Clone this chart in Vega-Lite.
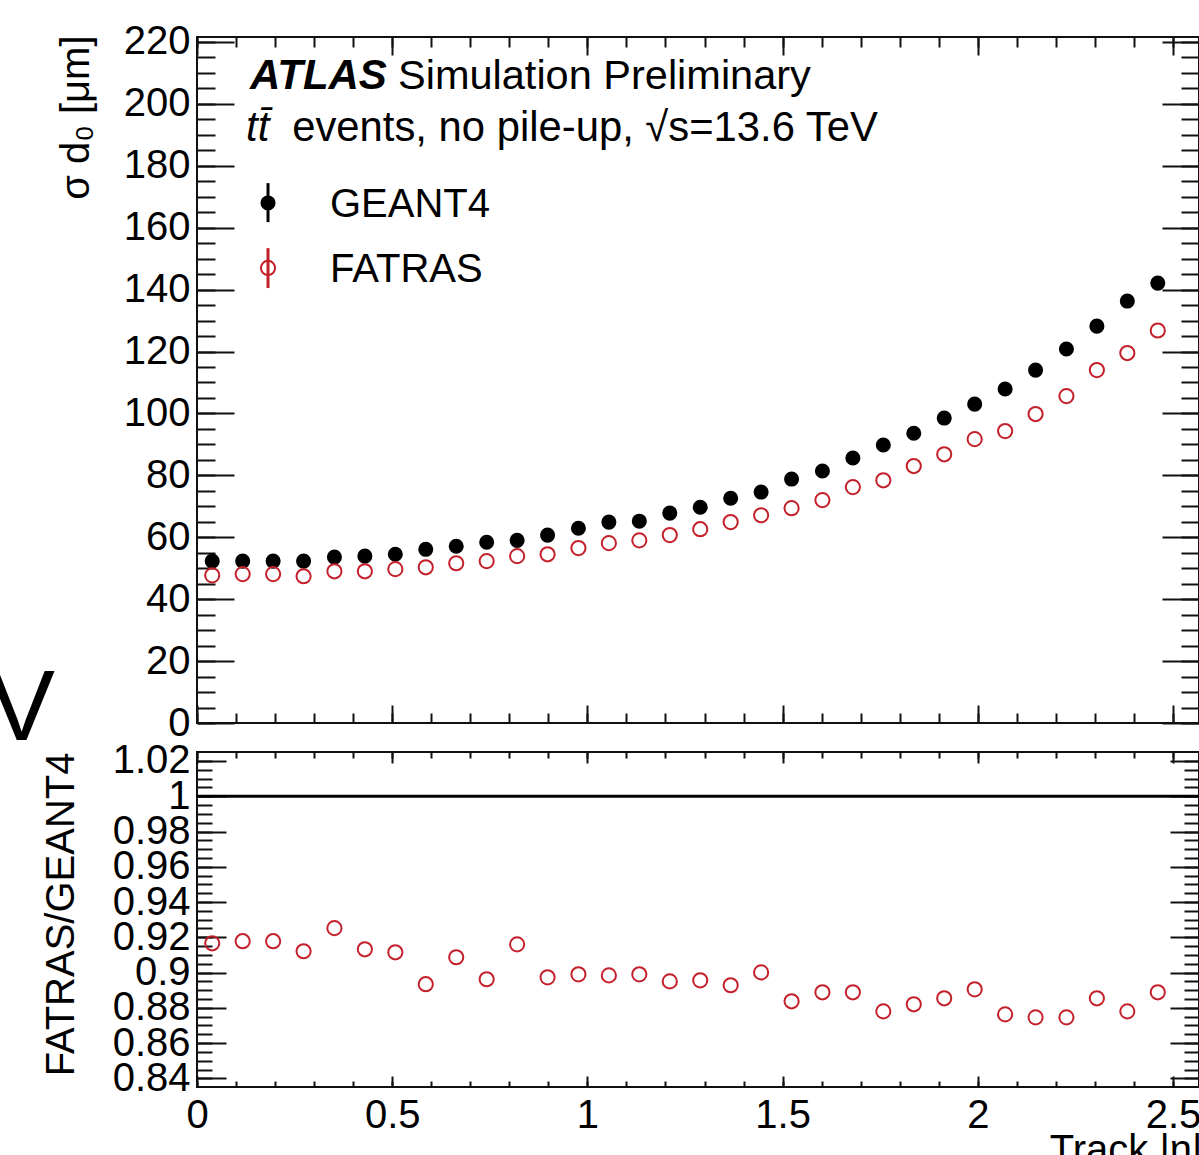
{
  "$schema": "https://vega.github.io/schema/vega-lite/v6.json",
  "autosize": {"type": "none"},
  "padding": {"left": 197, "top": 37, "right": 1002, "bottom": 1118},
  "background": "white",
  "bounds": "flush",
  "spacing": 29,
  "datasets": {
    "d": [
      {"eta": 0.039, "geant4": 52.3, "fatras": 47.7, "ratio": 0.9166},
      {"eta": 0.117, "geant4": 52.3, "fatras": 48.1, "ratio": 0.9178},
      {"eta": 0.195, "geant4": 52.3, "fatras": 48.1, "ratio": 0.9178},
      {"eta": 0.273, "geant4": 52.3, "fatras": 47.4, "ratio": 0.9121},
      {"eta": 0.352, "geant4": 53.6, "fatras": 49.0, "ratio": 0.9252},
      {"eta": 0.430, "geant4": 53.9, "fatras": 49.0, "ratio": 0.9132},
      {"eta": 0.508, "geant4": 54.5, "fatras": 49.7, "ratio": 0.9115},
      {"eta": 0.586, "geant4": 56.1, "fatras": 50.3, "ratio": 0.8934},
      {"eta": 0.664, "geant4": 57.1, "fatras": 51.6, "ratio": 0.9087},
      {"eta": 0.742, "geant4": 58.4, "fatras": 52.3, "ratio": 0.8962},
      {"eta": 0.820, "geant4": 59.0, "fatras": 53.9, "ratio": 0.9160},
      {"eta": 0.898, "geant4": 60.7, "fatras": 54.5, "ratio": 0.8973},
      {"eta": 0.977, "geant4": 62.9, "fatras": 56.5, "ratio": 0.8990},
      {"eta": 1.055, "geant4": 64.9, "fatras": 58.1, "ratio": 0.8984},
      {"eta": 1.133, "geant4": 65.2, "fatras": 59.0, "ratio": 0.8990},
      {"eta": 1.211, "geant4": 67.8, "fatras": 60.7, "ratio": 0.8950},
      {"eta": 1.289, "geant4": 69.7, "fatras": 62.6, "ratio": 0.8956},
      {"eta": 1.367, "geant4": 72.6, "fatras": 64.9, "ratio": 0.8928},
      {"eta": 1.445, "geant4": 74.6, "fatras": 67.1, "ratio": 0.9001},
      {"eta": 1.523, "geant4": 78.8, "fatras": 69.4, "ratio": 0.8837},
      {"eta": 1.602, "geant4": 81.4, "fatras": 72.0, "ratio": 0.8888},
      {"eta": 1.680, "geant4": 85.6, "fatras": 76.2, "ratio": 0.8888},
      {"eta": 1.758, "geant4": 89.8, "fatras": 78.4, "ratio": 0.8780},
      {"eta": 1.836, "geant4": 93.6, "fatras": 83.0, "ratio": 0.8820},
      {"eta": 1.914, "geant4": 98.5, "fatras": 86.8, "ratio": 0.8854},
      {"eta": 1.992, "geant4": 103.0, "fatras": 91.7, "ratio": 0.8905},
      {"eta": 2.070, "geant4": 107.9, "fatras": 94.3, "ratio": 0.8763},
      {"eta": 2.148, "geant4": 114.0, "fatras": 99.8, "ratio": 0.8746},
      {"eta": 2.227, "geant4": 120.8, "fatras": 105.6, "ratio": 0.8746},
      {"eta": 2.305, "geant4": 128.2, "fatras": 114.0, "ratio": 0.8854},
      {"eta": 2.383, "geant4": 136.3, "fatras": 119.5, "ratio": 0.8780},
      {"eta": 2.461, "geant4": 142.1, "fatras": 126.8, "ratio": 0.8888}
    ]
  },
  "config": {
    "font": "Liberation Sans",
    "view": {"stroke": "#111", "strokeWidth": 2},
    "axis": {
      "grid": false,
      "domain": false,
      "tickColor": "#111",
      "tickWidth": 2,
      "labelColor": "black",
      "labelFont": "Liberation Sans",
      "labelFontSize": 40,
      "labelOverlap": false,
      "labelFlush": false,
      "labelBound": false,
      "titleFont": "Liberation Sans",
      "titleFontSize": 40,
      "titleFontWeight": "normal",
      "titleColor": "black"
    },
    "text": {"font": "Liberation Sans", "fontSize": 40, "color": "black"}
  },
  "vconcat": [
    {
      "width": 1002,
      "height": 686,
      "data": {"name": "d"},
      "resolve": {"axis": {"x": "independent", "y": "independent"}},
      "layer": [
        {
          "mark": {"type": "point", "shape": "circle", "filled": true, "size": 227, "color": "black", "opacity": 1},
          "encoding": {
            "x": {"field": "eta", "type": "quantitative", "scale": {"domain": [0, 2.5666], "nice": false, "zero": false},
                  "axis": {"orient": "bottom", "values": [0, 0.5, 1, 1.5, 2, 2.5], "labels": false, "tickSize": -18, "title": null}},
            "y": {"field": "geant4", "type": "quantitative", "scale": {"domain": [0, 221.6], "nice": false, "zero": false},
                  "axis": {"orient": "left", "values": [0, 20, 40, 60, 80, 100, 120, 140, 160, 180, 200, 220], "ticks": false, "labelPadding": 7, "labelExpr": "'' + datum.value",
                           "title": "σ d₀ [μm]", "titleAngle": 270, "titleAlign": "right", "titleBaseline": "alphabetic", "titleX": -109, "titleY": -2}}
          }
        },
        {
          "mark": {"type": "point", "shape": "circle", "filled": false, "size": 201, "stroke": "#c4202a", "strokeWidth": 2, "opacity": 1},
          "encoding": {
            "x": {"field": "eta", "type": "quantitative",
                  "axis": {"orient": "bottom", "values": [0, 0.1, 0.2, 0.3, 0.4, 0.5, 0.6, 0.7, 0.8, 0.9, 1, 1.1, 1.2, 1.3, 1.4, 1.5, 1.6, 1.7, 1.8, 1.9, 2, 2.1, 2.2, 2.3, 2.4, 2.5], "labels": false, "tickSize": -10, "title": null}},
            "y": {"field": "fatras", "type": "quantitative",
                  "axis": {"orient": "left", "values": [0, 20, 40, 60, 80, 100, 120, 140, 160, 180, 200, 220], "labels": false, "tickSize": -37, "title": null}}
          }
        },
        {
          "mark": {"type": "point", "opacity": 0},
          "encoding": {
            "x": {"field": "eta", "type": "quantitative",
                  "axis": {"orient": "top", "values": [0, 0.5, 1, 1.5, 2, 2.5], "labels": false, "tickSize": -18, "title": null}},
            "y": {"field": "geant4", "type": "quantitative",
                  "axis": {"orient": "left", "values": [0, 5, 10, 15, 20, 25, 30, 35, 40, 45, 50, 55, 60, 65, 70, 75, 80, 85, 90, 95, 100, 105, 110, 115, 120, 125, 130, 135, 140, 145, 150, 155, 160, 165, 170, 175, 180, 185, 190, 195, 200, 205, 210, 215, 220], "labels": false, "tickSize": -18, "title": null}}
          }
        },
        {
          "mark": {"type": "point", "opacity": 0},
          "encoding": {
            "x": {"field": "eta", "type": "quantitative",
                  "axis": {"orient": "top", "values": [0, 0.1, 0.2, 0.3, 0.4, 0.5, 0.6, 0.7, 0.8, 0.9, 1, 1.1, 1.2, 1.3, 1.4, 1.5, 1.6, 1.7, 1.8, 1.9, 2, 2.1, 2.2, 2.3, 2.4, 2.5], "labels": false, "tickSize": -10, "title": null}},
            "y": {"field": "geant4", "type": "quantitative",
                  "axis": {"orient": "right", "values": [0, 20, 40, 60, 80, 100, 120, 140, 160, 180, 200, 220], "labels": false, "tickSize": -37, "title": null}}
          }
        },
        {
          "mark": {"type": "point", "opacity": 0},
          "encoding": {
            "x": {"field": "eta", "type": "quantitative", "axis": null},
            "y": {"field": "geant4", "type": "quantitative",
                  "axis": {"orient": "right", "values": [0, 5, 10, 15, 20, 25, 30, 35, 40, 45, 50, 55, 60, 65, 70, 75, 80, 85, 90, 95, 100, 105, 110, 115, 120, 125, 130, 135, 140, 145, 150, 155, 160, 165, 170, 175, 180, 185, 190, 195, 200, 205, 210, 215, 220], "labels": false, "tickSize": -18, "title": null}}
          }
        },
        {
          "data": {"values": [{}]},
          "mark": {"type": "text", "align": "left", "baseline": "alphabetic", "fontWeight": "bold", "fontStyle": "italic", "fontSize": 42},
          "encoding": {
            "x": {"datum": 0.1358, "type": "quantitative", "axis": null},
            "y": {"datum": 204.7, "type": "quantitative", "axis": null},
            "text": {"value": "ATLAS"}
          }
        },
        {
          "data": {"values": [{}]},
          "mark": {"type": "text", "align": "left", "baseline": "alphabetic", "fontSize": 41.5},
          "encoding": {
            "x": {"datum": 0.5149, "type": "quantitative", "axis": null},
            "y": {"datum": 204.7, "type": "quantitative", "axis": null},
            "text": {"value": "Simulation Preliminary"}
          }
        },
        {
          "data": {"values": [{}]},
          "mark": {"type": "text", "align": "left", "baseline": "alphabetic", "fontStyle": "italic", "fontSize": 42},
          "encoding": {
            "x": {"datum": 0.1255, "type": "quantitative", "axis": null},
            "y": {"datum": 188.0, "type": "quantitative", "axis": null},
            "text": {"value": "tt̄"}
          }
        },
        {
          "data": {"values": [{}]},
          "mark": {"type": "text", "align": "left", "baseline": "alphabetic", "fontSize": 41.8},
          "encoding": {
            "x": {"datum": 0.2438, "type": "quantitative", "axis": null},
            "y": {"datum": 188.0, "type": "quantitative", "axis": null},
            "text": {"value": "events, no pile-up, √s=13.6 TeV"}
          }
        },
        {
          "data": {"values": [{}]},
          "mark": {"type": "text", "align": "center", "baseline": "alphabetic", "fontSize": 100},
          "encoding": {
            "x": {"datum": -0.4495, "type": "quantitative", "axis": null},
            "y": {"datum": -5.6, "type": "quantitative", "axis": null},
            "text": {"value": "V"}
          }
        },
        {
          "data": {"values": [{}]},
          "mark": {"type": "rule", "color": "black", "strokeWidth": 3},
          "encoding": {
            "x": {"datum": 0.1819, "type": "quantitative", "axis": null},
            "y": {"datum": 174.4, "type": "quantitative", "axis": null},
            "y2": {"datum": 161.8}
          }
        },
        {
          "data": {"values": [{}]},
          "mark": {"type": "point", "shape": "circle", "filled": true, "size": 227, "color": "black", "opacity": 1},
          "encoding": {
            "x": {"datum": 0.1819, "type": "quantitative", "axis": null},
            "y": {"datum": 168.0, "type": "quantitative", "axis": null}
          }
        },
        {
          "data": {"values": [{}]},
          "mark": {"type": "rule", "color": "#c4202a", "strokeWidth": 3},
          "encoding": {
            "x": {"datum": 0.1819, "type": "quantitative", "axis": null},
            "y": {"datum": 153.4, "type": "quantitative", "axis": null},
            "y2": {"datum": 140.5}
          }
        },
        {
          "data": {"values": [{}]},
          "mark": {"type": "point", "shape": "circle", "filled": false, "size": 201, "stroke": "#c4202a", "strokeWidth": 2, "opacity": 1},
          "encoding": {
            "x": {"datum": 0.1819, "type": "quantitative", "axis": null},
            "y": {"datum": 147.0, "type": "quantitative", "axis": null}
          }
        },
        {
          "data": {"values": [{}]},
          "mark": {"type": "text", "align": "left", "baseline": "alphabetic"},
          "encoding": {
            "x": {"datum": 0.3407, "type": "quantitative", "axis": null},
            "y": {"datum": 163.3, "type": "quantitative", "axis": null},
            "text": {"value": "GEANT4"}
          }
        },
        {
          "data": {"values": [{}]},
          "mark": {"type": "text", "align": "left", "baseline": "alphabetic"},
          "encoding": {
            "x": {"datum": 0.3407, "type": "quantitative", "axis": null},
            "y": {"datum": 142.3, "type": "quantitative", "axis": null},
            "text": {"value": "FATRAS"}
          }
        }
      ]
    },
    {
      "width": 1002,
      "height": 335,
      "data": {"name": "d"},
      "resolve": {"axis": {"x": "independent", "y": "independent"}},
      "layer": [
        {
          "data": {"values": [{}]},
          "mark": {"type": "rule", "color": "black", "strokeWidth": 3},
          "encoding": {
            "y": {"datum": 1, "type": "quantitative", "scale": {"domain": [0.8351, 1.0251], "nice": false, "zero": false}, "axis": null}
          }
        },
        {
          "mark": {"type": "point", "shape": "circle", "filled": false, "size": 201, "stroke": "#c4202a", "strokeWidth": 2, "opacity": 1},
          "encoding": {
            "x": {"field": "eta", "type": "quantitative", "scale": {"domain": [0, 2.5666], "nice": false, "zero": false},
                  "axis": {"orient": "bottom", "values": [0, 0.5, 1, 1.5, 2, 2.5], "ticks": false, "labelPadding": 8, "labelExpr": "'' + datum.value",
                           "title": "Track |η|", "titleAlign": "right", "titleBaseline": "alphabetic", "titleX": 1005, "titleY": 75}},
            "y": {"field": "ratio", "type": "quantitative",
                  "axis": {"orient": "left", "values": [0.84, 0.86, 0.88, 0.9, 0.92, 0.94, 0.96, 0.98, 1, 1.02], "ticks": false, "labelPadding": 7, "labelExpr": "'' + datum.value",
                           "title": "FATRAS/GEANT4", "titleAngle": 270, "titleAlign": "right", "titleBaseline": "alphabetic", "titleX": -124, "titleY": 0}}
          }
        },
        {
          "mark": {"type": "point", "opacity": 0},
          "encoding": {
            "x": {"field": "eta", "type": "quantitative",
                  "axis": {"orient": "bottom", "values": [0, 0.5, 1, 1.5, 2, 2.5], "labels": false, "tickSize": -11, "title": null}},
            "y": {"field": "ratio", "type": "quantitative",
                  "axis": {"orient": "left", "values": [0.84, 0.86, 0.88, 0.9, 0.92, 0.94, 0.96, 0.98, 1, 1.02], "labels": false, "tickSize": -29, "title": null}}
          }
        },
        {
          "mark": {"type": "point", "opacity": 0},
          "encoding": {
            "x": {"field": "eta", "type": "quantitative",
                  "axis": {"orient": "bottom", "values": [0, 0.1, 0.2, 0.3, 0.4, 0.5, 0.6, 0.7, 0.8, 0.9, 1, 1.1, 1.2, 1.3, 1.4, 1.5, 1.6, 1.7, 1.8, 1.9, 2, 2.1, 2.2, 2.3, 2.4, 2.5], "labels": false, "tickSize": -6, "title": null}},
            "y": {"field": "ratio", "type": "quantitative",
                  "axis": {"orient": "left", "values": [0.84, 0.845, 0.85, 0.855, 0.86, 0.865, 0.87, 0.875, 0.88, 0.885, 0.89, 0.895, 0.9, 0.905, 0.91, 0.915, 0.92, 0.925, 0.93, 0.935, 0.94, 0.945, 0.95, 0.955, 0.96, 0.965, 0.97, 0.975, 0.98, 0.985, 0.99, 0.995, 1, 1.005, 1.01, 1.015, 1.02], "labels": false, "tickSize": -15, "title": null}}
          }
        },
        {
          "mark": {"type": "point", "opacity": 0},
          "encoding": {
            "x": {"field": "eta", "type": "quantitative",
                  "axis": {"orient": "top", "values": [0, 0.5, 1, 1.5, 2, 2.5], "labels": false, "tickSize": -11, "title": null}},
            "y": {"field": "ratio", "type": "quantitative",
                  "axis": {"orient": "right", "values": [0.84, 0.86, 0.88, 0.9, 0.92, 0.94, 0.96, 0.98, 1, 1.02], "labels": false, "tickSize": -29, "title": null}}
          }
        },
        {
          "mark": {"type": "point", "opacity": 0},
          "encoding": {
            "x": {"field": "eta", "type": "quantitative",
                  "axis": {"orient": "top", "values": [0, 0.1, 0.2, 0.3, 0.4, 0.5, 0.6, 0.7, 0.8, 0.9, 1, 1.1, 1.2, 1.3, 1.4, 1.5, 1.6, 1.7, 1.8, 1.9, 2, 2.1, 2.2, 2.3, 2.4, 2.5], "labels": false, "tickSize": -6, "title": null}},
            "y": {"field": "ratio", "type": "quantitative",
                  "axis": {"orient": "right", "values": [0.84, 0.845, 0.85, 0.855, 0.86, 0.865, 0.87, 0.875, 0.88, 0.885, 0.89, 0.895, 0.9, 0.905, 0.91, 0.915, 0.92, 0.925, 0.93, 0.935, 0.94, 0.945, 0.95, 0.955, 0.96, 0.965, 0.97, 0.975, 0.98, 0.985, 0.99, 0.995, 1, 1.005, 1.01, 1.015, 1.02], "labels": false, "tickSize": -15, "title": null}}
          }
        }
      ]
    }
  ]
}
